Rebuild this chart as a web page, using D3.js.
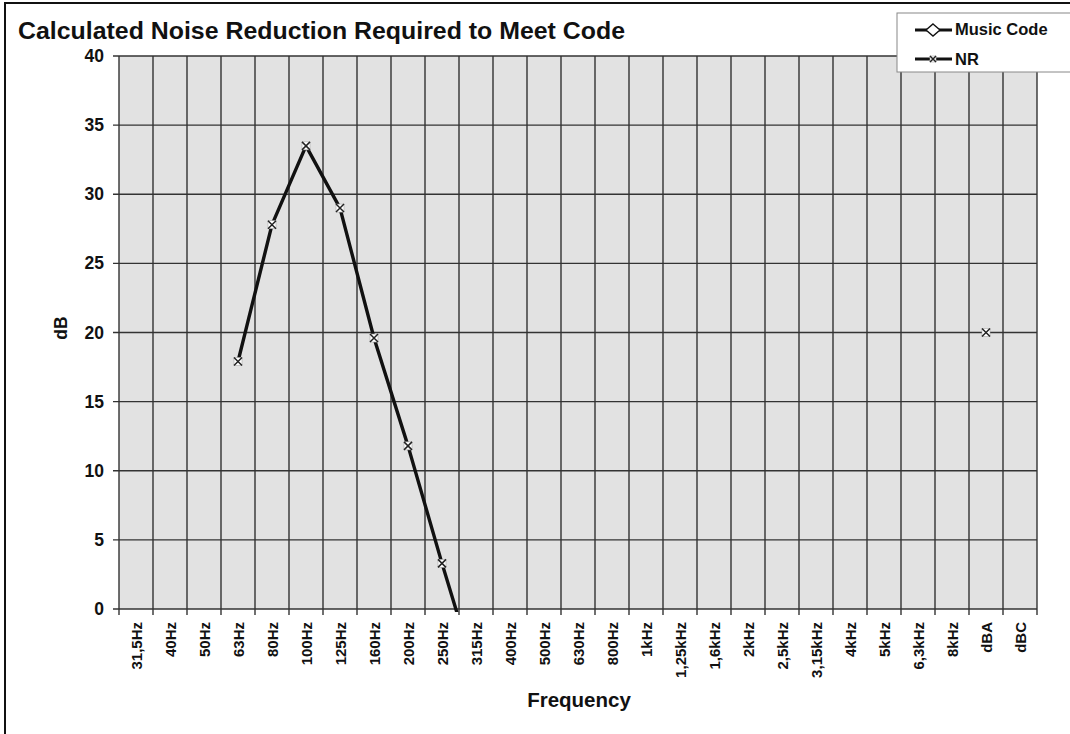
<!DOCTYPE html>
<html>
<head>
<meta charset="utf-8">
<script src="https://cdn.jsdelivr.net/npm/d3@7"></script>
<style>
  body { margin: 0; background: #fff; }
  text { font-family: "Liberation Sans", Arial, sans-serif; font-weight: bold; fill: #111; }
</style>
</head>
<body>
<svg width="1070" height="734"></svg>
<script>
// bands along the x axis
var bands = ['31.5Hz','40Hz','50Hz','63Hz','80Hz','100Hz','125Hz','160Hz','200Hz','250Hz',
  '315Hz','400Hz','500Hz','630Hz','800Hz','1kHz','1.25kHz','1.6kHz','2kHz','2.5kHz',
  '3.15kHz','4kHz','5kHz','6.3kHz','8kHz','dBA','dBC']

// NR values (null = nothing drawn)
var nr = [null, null, null, 17.9, 27.8, 33.5, 29.0, 19.6, 11.8, 3.3,
  -4.8, null, null, null, null, null, null, null, null, null,
  null, null, null, null, null, 20.0, null]
// Music Code has nothing visible in the plot
var musicCode = bands.map(() => null)

var yTicks = [0, 5, 10, 15, 20, 25, 30, 35, 40]

var svg = d3.select('svg')
var m = { left: 119, right: 1037, top: 56, bottom: 609 }

var x = d3.scaleBand().domain(bands).range([m.left, m.right])
var y = d3.scaleLinear().domain([0, 40]).range([m.bottom, m.top])

// outer frame
svg.append('rect')
  .attr('x', 5).attr('y', 3).attr('width', 1080).attr('height', 740)
  .attr('fill', 'none').attr('stroke', '#111').attr('stroke-width', 2)

svg.append('text')
  .attr('x', 18).attr('y', 39)
  .attr('font-size', 23.5)
  .attr('textLength', 607).attr('lengthAdjust', 'spacingAndGlyphs')
  .text('Calculated Noise Reduction Required to Meet Code')

// plot area
svg.append('rect')
  .attr('x', m.left).attr('y', m.top)
  .attr('width', m.right - m.left).attr('height', m.bottom - m.top)
  .attr('fill', '#e2e2e2')

var grid = svg.append('g').attr('stroke', '#333').attr('stroke-width', 1.4)
grid.selectAll('line.h')
  .data(yTicks)
  .enter().append('line')
    .attr('x1', m.left - 6).attr('x2', m.right)
    .attr('y1', (d) => y(d)).attr('y2', (d) => y(d))

var edges = bands.map((d) => x(d)).concat([m.right])
grid.selectAll('line.v')
  .data(edges)
  .enter().append('line')
    .attr('x1', (d) => d).attr('x2', (d) => d)
    .attr('y1', m.top).attr('y2', m.bottom + 6)

// y tick labels
svg.append('g').selectAll('text')
  .data(yTicks)
  .enter().append('text')
    .attr('x', 104).attr('y', (d) => y(d) + 6)
    .attr('text-anchor', 'end')
    .attr('font-size', 17.5)
    .text((d) => d)

svg.append('text')
  .attr('transform', 'translate(67,328) rotate(-90)')
  .attr('text-anchor', 'middle')
  .attr('font-size', 17.5)
  .text('dB')

// x tick labels
svg.append('g').selectAll('text')
  .data(bands)
  .enter().append('text')
    .attr('transform', (d) => 'translate(' + (x(d) + x.bandwidth() / 2 + 5.5) + ',622) rotate(-90)')
    .attr('text-anchor', 'end')
    .attr('font-size', 15)
    .text((d) => d.replace('.', ','))

svg.append('text')
  .attr('x', 579).attr('y', 707)
  .attr('text-anchor', 'middle')
  .attr('font-size', 20.5)
  .text('Frequency')

// series
svg.append('clipPath').attr('id', 'plot')
  .append('rect')
    .attr('x', m.left).attr('y', m.top)
    .attr('width', m.right - m.left).attr('height', m.bottom - m.top + 3)

var cx = (i) => x(bands[i]) + x.bandwidth() / 2
var line = d3.line()
  .defined((d) => d != null)
  .x((d, i) => cx(i))
  .y((d) => y(d))

var nrLine = nr.map((d, i) => (d != null && (nr[i - 1] != null || nr[i + 1] != null)) ? d : null)

svg.append('path')
  .attr('clip-path', 'url(#plot)')
  .datum(nrLine)
  .attr('d', line)
  .attr('fill', 'none').attr('stroke', '#111').attr('stroke-width', 3.4)
  .attr('stroke-linejoin', 'round')

svg.append('path')
  .datum(musicCode)
  .attr('d', line)
  .attr('fill', 'none').attr('stroke', '#111').attr('stroke-width', 3)

function xMarker (g, px, py, s) {
  g.append('rect')
    .attr('x', px - s).attr('y', py - s).attr('width', 2 * s).attr('height', 2 * s)
    .attr('fill', '#fff').attr('stroke', '#aaa').attr('stroke-width', 0.6)
  g.append('path')
    .attr('d', 'M' + (px - s) + ',' + (py - s) + 'L' + (px + s) + ',' + (py + s) +
      'M' + (px + s) + ',' + (py - s) + 'L' + (px - s) + ',' + (py + s))
    .attr('stroke', '#222').attr('stroke-width', 1.5)
}

var marks = svg.append('g').attr('clip-path', 'url(#plot)')
nr.forEach((d, i) => {
  if (d != null && d >= 0) xMarker(marks, cx(i), y(d), 4)
})

// legend
var lg = svg.append('g')
lg.append('rect')
  .attr('x', 897).attr('y', 13).attr('width', 180).attr('height', 59)
  .attr('fill', '#fff').attr('stroke', '#888').attr('stroke-width', 1)
lg.append('line').attr('x1', 915).attr('x2', 952).attr('y1', 30).attr('y2', 30)
  .attr('stroke', '#111').attr('stroke-width', 2.8)
lg.append('path')
  .attr('d', 'M933,24L940,30L933,36L926,30Z')
  .attr('fill', '#fff').attr('stroke', '#111').attr('stroke-width', 1.4)
lg.append('text').attr('x', 955).attr('y', 35).attr('font-size', 16.5).text('Music Code')
lg.append('line').attr('x1', 915).attr('x2', 952).attr('y1', 59).attr('y2', 59)
  .attr('stroke', '#111').attr('stroke-width', 2.8)
xMarker(lg, 933, 59, 3)
lg.append('text').attr('x', 955).attr('y', 65).attr('font-size', 16.5).text('NR')
</script>
</body>
</html>
